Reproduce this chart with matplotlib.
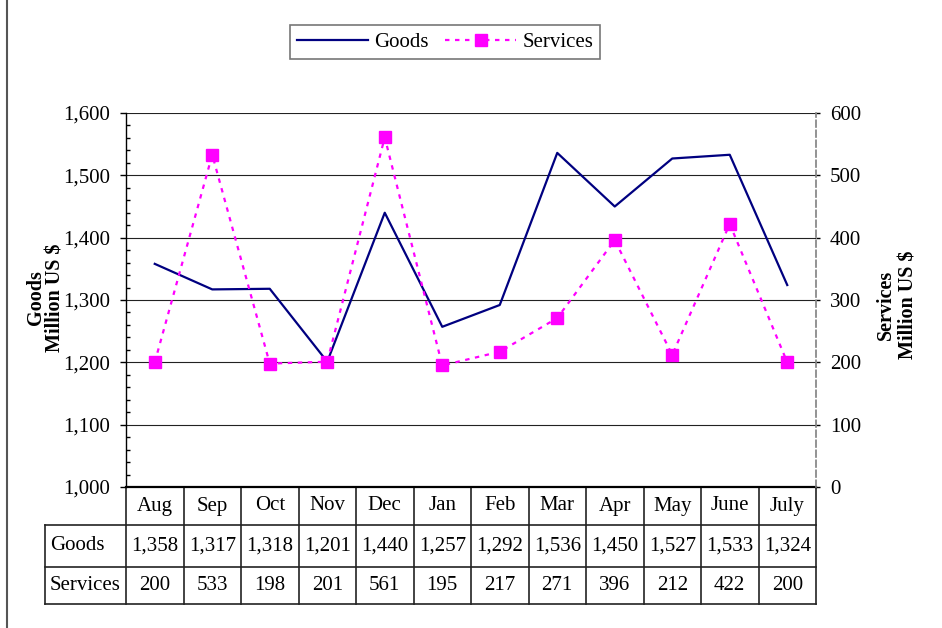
import matplotlib
matplotlib.use("Agg")
import matplotlib.pyplot as plt
from matplotlib.lines import Line2D

months = ["Aug", "Sep", "Oct", "Nov", "Dec", "Jan", "Feb", "Mar", "Apr", "May", "June", "July"]
goods = [1358, 1317, 1318, 1201, 1440, 1257, 1292, 1536, 1450, 1527, 1533, 1324]
services = [200, 533, 198, 201, 561, 195, 217, 271, 396, 212, 422, 200]
goods_ticks = [1000, 1100, 1200, 1300, 1400, 1500, 1600]
services_ticks = [0, 100, 200, 300, 400, 500, 600]

plt.rcParams["font.family"] = ["Liberation Serif", "DejaVu Serif"]
FS = 15

W, H = 942, 628
fig = plt.figure(figsize=(W / 100, H / 100), dpi=100, facecolor="white")
fx = lambda px: px / W
fy = lambda py: 1 - py / H

# plot area in pixels
L, R, T, B = 126, 816, 113, 487
ax = fig.add_axes([fx(L), fy(B), fx(R) - fx(L), fy(T) - fy(B)])
x = list(range(len(months)))
ax.plot(x, goods, color="#000080", lw=1.6, label="Goods", zorder=3)
ax.set_xlim(-0.5, len(months) - 0.5)
ax.set_ylim(goods_ticks[0], goods_ticks[-1])
ax.set_yticks(goods_ticks)
ax.set_yticklabels([f"{v:,}" for v in goods_ticks], fontsize=FS)
ax.set_yticks(range(goods_ticks[0], goods_ticks[-1] + 1, 20), minor=True)
ax.tick_params(axis="y", which="major", direction="out", length=4.3, width=1, pad=7)
ax.tick_params(axis="y", which="minor", direction="in", length=3, width=1)
ax.tick_params(axis="x", bottom=False, labelbottom=False)
ax.grid(axis="y", which="major", color="#222222", lw=0.8)
for s in ("top", "right"):
    ax.spines[s].set_visible(False)
ax.spines["bottom"].set_linewidth(1.6)
ax.spines["left"].set_linewidth(1.0)

ax2 = ax.twinx()
ax2.plot(x, services, color="#ff00ff", lw=1.6, ls=(0, (2, 2.5)), marker="s", ms=8,
         markeredgecolor="#ff00ff", label="Services", zorder=3)
ax2.set_ylim(services_ticks[0], services_ticks[-1])
ax2.set_yticks(services_ticks)
ax2.set_yticklabels([str(v) for v in services_ticks], fontsize=FS)
ax2.tick_params(axis="y", direction="out", length=3, width=1, pad=7)
for s in ("top", "left", "bottom"):
    ax2.spines[s].set_visible(False)
ax2.spines["right"].set_linestyle((0, (4, 2)))
ax2.spines["right"].set_color("#808080")
ax2.spines["right"].set_linewidth(1.2)

# data table under the plot
tr = ax.get_xaxis_transform()
col_w = (R - L) / len(months)
lab_left = -0.5 - (L - 45) / col_w
y_hdr, y_g, y_s = -(525 - B) / (B - T), -(567 - B) / (B - T), -(604 - B) / (B - T)
kw = dict(transform=tr, clip_on=False, color="#222222", lw=1.2)
for yy in (y_hdr, y_g, y_s):
    ax.plot([lab_left, len(months) - 0.5], [yy, yy], **kw)
ax.plot([lab_left, lab_left], [y_hdr, y_s], **kw)
for k in range(len(months) + 1):
    ax.plot([k - 0.5, k - 0.5], [0, y_s], **kw)
for i, m in enumerate(months):
    ax.text(i, y_hdr / 2, m, transform=tr, ha="center", va="center", fontsize=FS)
    ax.text(i, (y_hdr + y_g) / 2, f"{goods[i]:,}", transform=tr, ha="center", va="center", fontsize=FS)
    ax.text(i, (y_g + y_s) / 2, f"{services[i]}", transform=tr, ha="center", va="center", fontsize=FS)
ax.text(lab_left + 5 / col_w, (y_hdr + y_g) / 2, "Goods", transform=tr, ha="left", va="center", fontsize=FS)
ax.text(lab_left + 5 / col_w, (y_g + y_s) / 2, "Services", transform=tr, ha="left", va="center", fontsize=FS)

# axis titles
fig.text(fx(46), fy(298), "Goods\nMillion US $", rotation=90, ha="center", va="center",
         fontsize=14.5, fontweight="bold", multialignment="center", linespacing=0.95)
fig.text(fx(897), fy(305), "Services\nMillion US $", rotation=90, ha="center", va="center",
         fontsize=14.5, fontweight="bold", multialignment="center", linespacing=1.15)

# legend
h1, l1 = ax.get_legend_handles_labels()
h2, l2 = ax2.get_legend_handles_labels()
leg = fig.legend(h1 + h2, l1 + l2, loc="center", bbox_to_anchor=(fx(445), fy(42)), ncol=2,
                 fontsize=FS, frameon=True, fancybox=False, edgecolor="#555555",
                 handlelength=3.4, handletextpad=0.3, columnspacing=0.8, borderpad=0.35)
leg.get_frame().set_linewidth(1.2)

# chart border on the left
fig.add_artist(Line2D([fx(7), fx(7)], [0, 1], color="#555555", lw=1.5, transform=fig.transFigure))

fig.savefig("out.png", dpi=100, facecolor="white")
